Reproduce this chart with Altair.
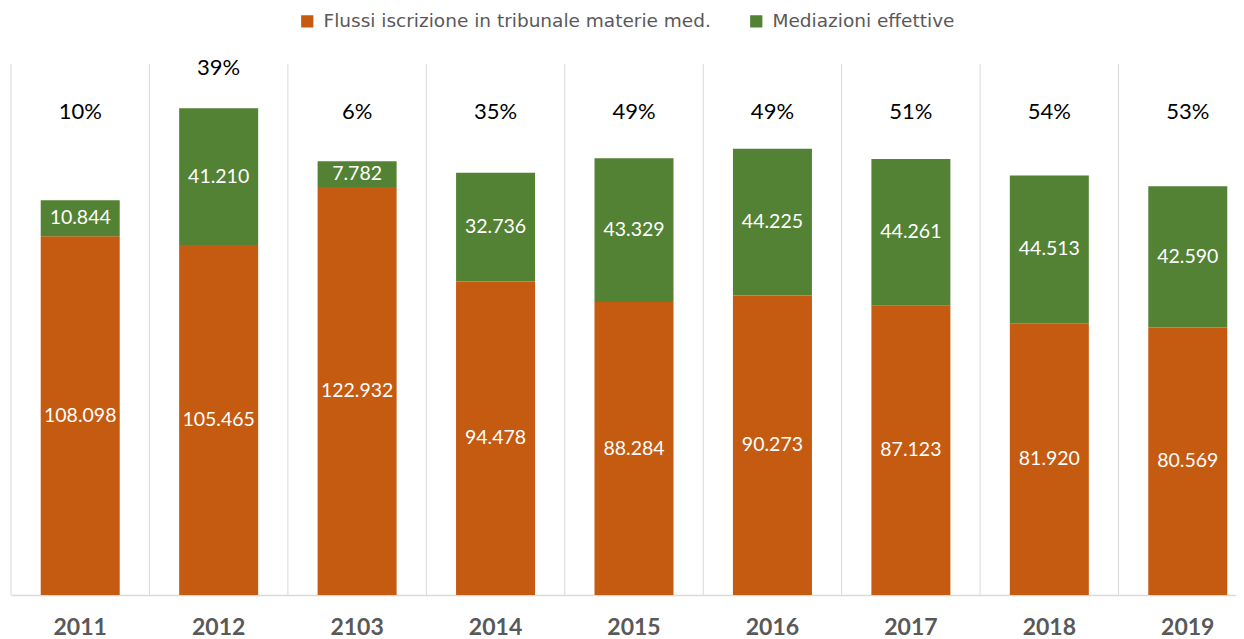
import altair as alt
import pandas as pd

anni = ["2011", "2012", "2103", "2014", "2015", "2016", "2017", "2018", "2019"]
flussi = [108098, 105465, 122932, 94478, 88284, 90273, 87123, 81920, 80569]
mediazioni = [10844, 41210, 7782, 32736, 43329, 44225, 44261, 44513, 42590]
serie = ["Flussi iscrizione in tribunale materie med.", "Mediazioni effettive"]
colori = ["#C55A11", "#548235"]

FONT = "Lato"

rows = []
for i, a in enumerate(anni):
    rows.append({"anno": a, "serie": serie[0], "valore": flussi[i], "ord": 0})
    rows.append({"anno": a, "serie": serie[1], "valore": mediazioni[i], "ord": 1})
df = pd.DataFrame(rows)
df["etichetta"] = df["valore"].map(lambda v: f"{v:,}".replace(",", "."))

pct_df = pd.DataFrame({
    "anno": anni,
    "tot": [f + m for f, m in zip(flussi, mediazioni)],
    "pct": [f"{round(m / f * 100)}%" for f, m in zip(flussi, mediazioni)],
})

W, H = 1225, 531
x_scale = alt.Scale(domain=anni, range=[0, 1246], paddingInner=0, paddingOuter=0)
y_scale = alt.Scale(domain=[0, 160000], nice=False)

x_axis = alt.Axis(title=None, labelAngle=0, grid=False, ticks=False,
                  domainColor="#D9D9D9", domainWidth=1.5,
                  labelFont=FONT, labelFontSize=23, labelFontWeight="bold",
                  labelColor="#595959", labelPadding=21)

grid = alt.Chart(pd.DataFrame({"anno": anni})).mark_rule(color="#D9D9D9", strokeWidth=1).encode(
    x=alt.X("anno:N", sort=anni, scale=x_scale, bandPosition=0, axis=x_axis),
    y=alt.value(0),
    y2=alt.value(H),
)

base = alt.Chart(df).transform_stack(
    stack="valore", groupby=["anno"], as_=["y0", "y1"], sort=[alt.SortField("ord", order="ascending")]
).transform_calculate(mid="(datum.y0 + datum.y1) / 2")

bars = base.mark_bar(size=79).encode(
    x=alt.X("anno:N", sort=anni, scale=x_scale, axis=x_axis),
    y=alt.Y("y0:Q", scale=y_scale, axis=None),
    y2="y1:Q",
    color=alt.Color("serie:N", sort=serie,
                    scale=alt.Scale(domain=serie, range=colori),
                    legend=alt.Legend(title=None, orient="none", legendX=287, legendY=-52,
                                      direction="horizontal", symbolType="square",
                                      symbolSize=150, symbolStrokeWidth=0, labelLimit=0,
                                      labelFont="DejaVu Sans", labelFontSize=18.5, labelColor="#595959",
                                      labelOffset=7, columnPadding=36, padding=0)),
)

labels = base.mark_text(font=FONT, fontSize=19.5, color="white", baseline="middle", align="center").encode(
    x=alt.X("anno:N", sort=anni, scale=x_scale, axis=x_axis),
    y=alt.Y("mid:Q", scale=y_scale, axis=None),
    text="etichetta:N",
)

pct = alt.Chart(pct_df).transform_calculate(
    ypos="datum.tot + 12000 > 150000 ? datum.tot + 12000 : 145500"
).mark_text(font=FONT, fontSize=22, color="#000000", baseline="middle", align="center").encode(
    x=alt.X("anno:N", sort=anni, scale=x_scale, axis=x_axis),
    y=alt.Y("ypos:Q", scale=y_scale, axis=None),
    text="pct:N",
)

chart = alt.layer(grid, bars, labels, pct).properties(
    width=W, height=H,
    autosize=alt.AutoSizeParams(type="none"),
    padding={"left": 3, "top": 56, "right": 0, "bottom": 44},
).configure(background="white").configure_view(stroke=None)

chart.save("out.html", embed_options={"renderer": "svg", "actions": False})
